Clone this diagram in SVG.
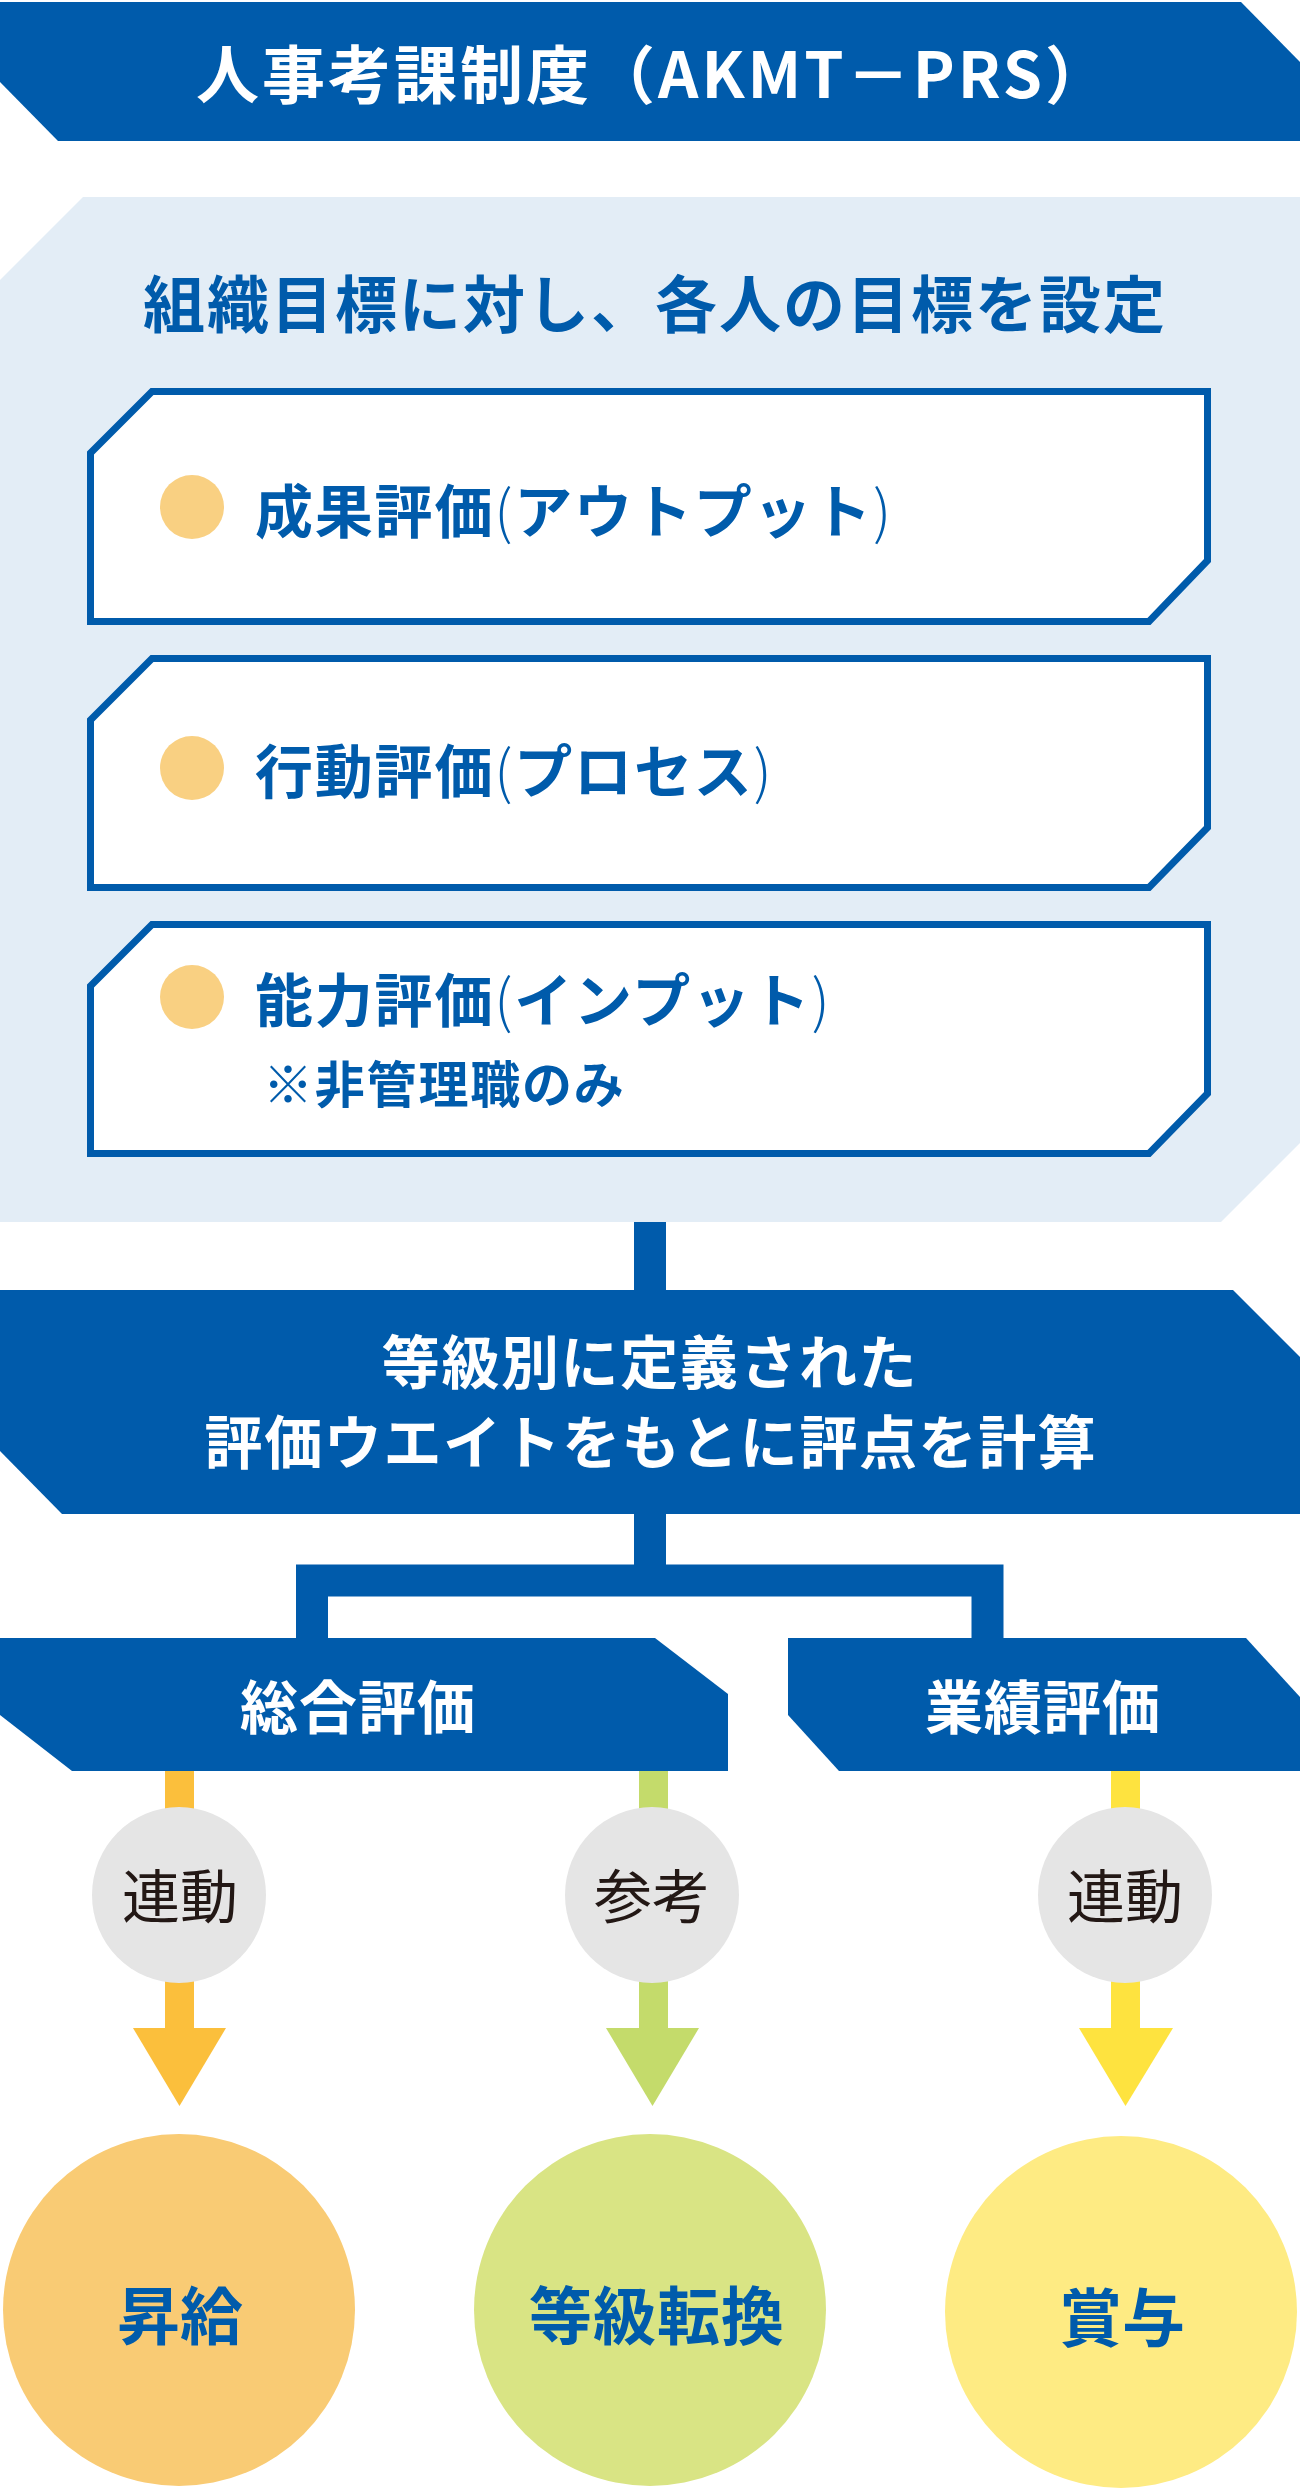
<svg xmlns="http://www.w3.org/2000/svg" width="1300" height="2491" viewBox="0 0 1300 2491">
<style>
.blue{fill:#005bab}
.panel{fill:#e3edf6}
.box{fill:#ffffff;stroke:#005bab;stroke-width:7;stroke-linejoin:miter}
.dot{fill:#f9d082}
.t{font-family:"Noto Sans CJK JP","Noto Sans",sans-serif;font-weight:700}
.w{fill:#ffffff}
.b{fill:#005bab}
.p{font-weight:300}
.lbl{font-family:"Noto Sans CJK JP","Noto Sans",sans-serif;font-weight:400;font-size:58px;fill:#231815;text-anchor:middle}
.conn{fill:none;stroke:#005bab;stroke-width:32;stroke-linejoin:miter}
.gray{fill:#e5e5e5}
</style>
<rect width="1300" height="2491" fill="#ffffff"/>

<g id="connectors">
  <path class="conn" d="M650 1205 V1295"/>
  <path class="conn" d="M650 1510 V1580.5 M312 1643 V1580.5 H987.5 V1643"/>
  <g id="arrow-left">
    <rect x="165" y="1765" width="29" height="268" fill="#fbbf3c"/>
    <polygon points="133,2028 226,2028 179.5,2106" fill="#fbbf3c"/>
  </g>
  <g id="arrow-mid">
    <rect x="639" y="1765" width="29" height="268" fill="#c4db6b"/>
    <polygon points="606,2028 699,2028 652.5,2106" fill="#c4db6b"/>
  </g>
  <g id="arrow-right">
    <rect x="1111" y="1765" width="29" height="268" fill="#fee33f"/>
    <polygon points="1079,2028 1173,2028 1125.5,2106" fill="#fee33f"/>
  </g>
</g>

<g id="title">
  <polygon class="blue" points="0,2 1241,2 1300,62 1300,141 58,141 0,82"/>
  <text class="t w" x="196" y="98" font-size="63" letter-spacing="3">人事考課制度（AKMT－PRS）</text>
</g>

<g id="goal-panel">
  <polygon class="panel" points="83,197 1300,197 1300,1143 1221,1222 0,1222 0,280"/>
  <text class="t b" x="143" y="328" font-size="62" letter-spacing="2">組織目標に対し、各人の目標を設定</text>
</g>

<g id="eval-output">
  <polygon class="box" transform="translate(90.5,391.5)" points="61.5,0 1117,0 1117,169 1058.5,230 0,230 0,61.5"/>
  <circle class="dot" cx="192" cy="507" r="32"/>
  <text class="t b" x="255" y="533" font-size="58" letter-spacing="1.8">成果評価<tspan class="p">(</tspan>アウトプット<tspan class="p">)</tspan></text>
</g>

<g id="eval-process">
  <polygon class="box" transform="translate(90.5,658.5)" points="61.5,0 1117,0 1117,169 1058.5,229 0,229 0,61.5"/>
  <circle class="dot" cx="192" cy="768" r="32"/>
  <text class="t b" x="255" y="793" font-size="58" letter-spacing="1.8">行動評価<tspan class="p">(</tspan>プロセス<tspan class="p">)</tspan></text>
</g>

<g id="eval-input">
  <polygon class="box" transform="translate(90.5,924.5)" points="61.5,0 1117,0 1117,169 1058.5,229 0,229 0,61.5"/>
  <circle class="dot" cx="192" cy="997" r="32"/>
  <text class="t b" x="255" y="1022" font-size="58" letter-spacing="1.8">能力評価<tspan class="p">(</tspan>インプット<tspan class="p">)</tspan></text>
  <text class="t b" x="263" y="1103" font-size="50" letter-spacing="1.8">※非管理職のみ</text>
</g>

<g id="score-calc">
  <polygon class="blue" points="0,1290 1233,1290 1300,1357 1300,1514 62,1514 0,1451"/>
  <text class="t w" x="650" y="1384" font-size="58" letter-spacing="1.6" text-anchor="middle">等級別に定義された</text>
  <text class="t w" x="651" y="1464" font-size="58" letter-spacing="1.6" text-anchor="middle">評価ウエイトをもとに評点を計算</text>
</g>

<g id="overall-eval">
  <polygon class="blue" points="0,1638 655,1638 728,1694 728,1771 72,1771 0,1715"/>
  <text class="t w" x="358" y="1729" font-size="58" letter-spacing="1" text-anchor="middle">総合評価</text>
</g>

<g id="performance-eval">
  <polygon class="blue" points="788,1638 1246,1638 1300,1697 1300,1771 839,1771 788,1715"/>
  <text class="t w" x="1043" y="1729" font-size="58" letter-spacing="1" text-anchor="middle">業績評価</text>
</g>

<g id="label-left">
  <ellipse class="gray" cx="179" cy="1895" rx="87" ry="88"/>
  <text class="lbl" x="180" y="1918">連動</text>
</g>
<g id="label-mid">
  <ellipse class="gray" cx="652" cy="1895" rx="87" ry="88"/>
  <text class="lbl" x="652" y="1918">参考</text>
</g>
<g id="label-right">
  <ellipse class="gray" cx="1125" cy="1895" rx="87" ry="88"/>
  <text class="lbl" x="1125" y="1918">連動</text>
</g>

<g id="salary-raise">
  <ellipse cx="179" cy="2310" rx="176" ry="176" fill="#f9cb74"/>
  <text class="t b" x="180" y="2339" font-size="63" text-anchor="middle">昇給</text>
</g>
<g id="grade-change">
  <ellipse cx="650" cy="2310" rx="176" ry="176" fill="#d9e484"/>
  <text class="t b" x="657" y="2339" font-size="63" letter-spacing="1" text-anchor="middle">等級転換</text>
</g>
<g id="bonus">
  <ellipse cx="1121" cy="2312" rx="176" ry="176" fill="#feeb83"/>
  <text class="t b" x="1122" y="2341" font-size="63" text-anchor="middle">賞与</text>
</g>
</svg>
